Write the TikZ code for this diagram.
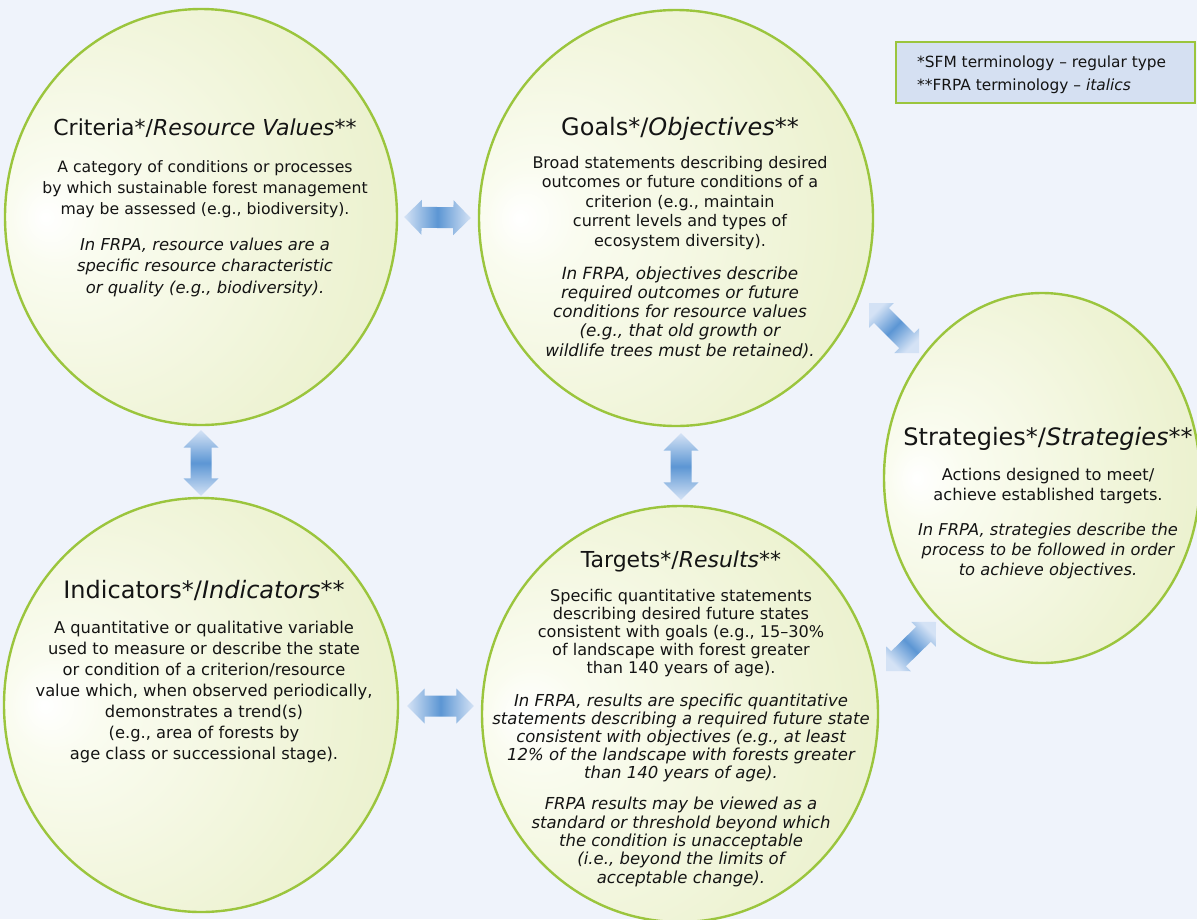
\documentclass[tikz,border=0pt]{standalone}
\usepackage{fontspec}
\setmainfont{DejaVu Sans}
\usetikzlibrary{shapes.geometric,calc}
\definecolor{bgc}{RGB}{239,243,251}
\definecolor{ringc}{RGB}{155,197,61}
\definecolor{legfill}{RGB}{213,224,242}
\definecolor{arrdark}{RGB}{92,150,212}
\definecolor{arrlight}{RGB}{212,226,245}
\definecolor{txtc}{RGB}{20,20,20}
\definecolor{cza}{RGB}{255,255,255}
\definecolor{czb}{RGB}{250,252,240}
\definecolor{czc}{RGB}{238,243,212}
\definecolor{czd}{RGB}{220,231,174}
\pgfdeclareradialshading{circshade}{\pgfpoint{-20bp}{0bp}}{color(0bp)=(cza); color(6bp)=(czb); color(30bp)=(czc); color(72bp)=(czd)}
\newcommand\setfs[2]{\fontsize{#1}{#2}\selectfont}
\newcommand\fatarr[3]{%
  \coordinate (fh1) at ($(#1)!17.5pt!(#2)$);
  \coordinate (fh2) at ($(#2)!17.5pt!(#1)$);
  \shade[arrowfill, shading angle=#3] (#1) -- ($(fh1)!17.5pt!90:(#2)$) -- ($(fh1)!10.5pt!90:(#2)$) -- ($(fh2)!10.5pt!-90:(#1)$) -- ($(fh2)!17.5pt!-90:(#1)$) -- (#2) -- ($(fh2)!17.5pt!90:(#1)$) -- ($(fh2)!10.5pt!90:(#1)$) -- ($(fh1)!10.5pt!-90:(#2)$) -- ($(fh1)!17.5pt!-90:(#2)$) -- cycle;
}
\begin{document}
\begin{tikzpicture}[x=1pt,y=-1pt,
  circ/.style={ellipse, draw=ringc, line width=2.4pt, shade, shading=circshade, inner sep=0pt},
  txt/.style={anchor=base, inner sep=0pt, align=center, text=txtc},
  arrowfill/.style={left color=arrlight, right color=arrlight, middle color=arrdark},
  legbox/.style={rectangle, draw=ringc, line width=2.5pt, fill=legfill, inner sep=0pt}]
\useasboundingbox (0,0) rectangle (1197,919);
\fill[bgc] (0,0) rectangle (1197,919);

% circles
\node[circ, minimum width=392pt, minimum height=416pt] (crit) at (201,217) {};
\node[circ, minimum width=394pt, minimum height=416pt] (goals) at (676,218) {};
\node[circ, minimum width=394pt, minimum height=414pt] (ind) at (201,705) {};
\node[circ, minimum width=396pt, minimum height=416pt] (targ) at (680,714) {};
\node[circ, minimum width=316pt, minimum height=370pt] (strat) at (1042,478) {};

% legend
\node[legbox, minimum width=299pt, minimum height=61pt] (leg) at (1045.5,72.5) {};
\node[anchor=base west, inner sep=0pt, align=left, text=txtc, font=\setfs{15.4}{23}] (legT) at (917,90)
  {*SFM terminology – regular type\\**FRPA terminology – \textit{italics}};

% arrows
\coordinate (a1s) at ($(crit.east)+(6,0)$);
\coordinate (a1e) at ($(goals.west)+(-7,0)$);
\fatarr{a1s}{a1e}{90}
\coordinate (a2s) at ($(crit.south)+(0,4)$);
\coordinate (a2e) at ($(ind.north)+(0,-1)$);
\fatarr{a2s}{a2e}{0}
\coordinate (a3s) at ($(goals.south)+(5,6)$);
\coordinate (a3e) at ($(targ.north)+(1,-5)$);
\fatarr{a3s}{a3e}{0}
\coordinate (a4s) at ($(ind.east)+(8,1)$);
\coordinate (a4e) at ($(targ.west)+(-7,-8)$);
\fatarr{a4s}{a4e}{90}
\coordinate (a5s) at (869,303);
\coordinate (a5e) at (919,353);
\fatarr{a5s}{a5e}{45}
\coordinate (a6s) at (886,671);
\coordinate (a6e) at (936,622);
\fatarr{a6s}{a6e}{-45}

% Criteria
\node[txt, font=\setfs{22}{26}] (critH) at (205,135) {Criteria*/\textit{Resource Values}**};
\node[txt, font=\setfs{15.7}{21}] (critB) at (205,214)
  {A category of conditions or processes\\by which sustainable forest management\\may be assessed (e.g., biodiversity).};
\node[txt, font=\setfs{16.4}{21.5}\itshape] (critI) at (205,293)
  {In FRPA, resource values are a\\specific resource characteristic\\or quality (e.g., biodiversity).};

% Goals
\node[txt, font=\setfs{24}{28}] (goalsH) at (680,135) {Goals*/\textit{Objectives}**};
\node[txt, font=\setfs{16}{19.5}] (goalsB) at (680,246)
  {Broad statements describing desired\\outcomes or future conditions of a\\criterion (e.g., maintain\\current levels and types of\\ecosystem diversity).};
\node[txt, font=\setfs{16.8}{19.25}\itshape] (goalsI) at (680,356)
  {In FRPA, objectives describe\\required outcomes or future\\conditions for resource values\\(e.g., that old growth or\\wildlife trees must be retained).};

% Indicators
\node[txt, font=\setfs{24}{28}] (indH) at (204,598) {Indicators*/\textit{Indicators}**};
\node[txt, font=\setfs{16.3}{21}] (indB) at (204,759)
  {A quantitative or qualitative variable\\used to measure or describe the state\\or condition of a criterion/resource\\value which, when observed periodically,\\demonstrates a trend(s)\\(e.g., area of forests by\\age class or successional stage).};

% Targets
\node[txt, font=\setfs{22}{26}] (targH) at (681,567) {Targets*/\textit{Results}**};
\node[txt, font=\setfs{16.1}{18}] (targB) at (681,673)
  {Specific quantitative statements\\describing desired future states\\consistent with goals (e.g., 15–30\%\\of landscape with forest greater\\than 140 years of age).};
\node[txt, font=\setfs{16.5}{18.1}\itshape] (targI) at (681,778.5)
  {In FRPA, results are specific quantitative\\statements describing a required future state\\consistent with objectives (e.g., at least\\12\% of the landscape with forests greater\\than 140 years of age).};
\node[txt, font=\setfs{16.5}{18.3}\itshape] (targJ) at (681,883)
  {FRPA results may be viewed as a\\standard or threshold beyond which\\the condition is unacceptable\\(i.e., beyond the limits of\\acceptable change).};

% Strategies
\node[txt, font=\setfs{24}{28}] (stratH) at (1048,445) {Strategies*/\textit{Strategies}**};
\node[txt, font=\setfs{16.2}{20}] (stratB) at (1048,500)
  {Actions designed to meet/\\achieve established targets.};
\node[txt, font=\setfs{16.3}{20}\itshape] (stratI) at (1048,575)
  {In FRPA, strategies describe the\\process to be followed in order\\to achieve objectives.};
\end{tikzpicture}
\end{document}
